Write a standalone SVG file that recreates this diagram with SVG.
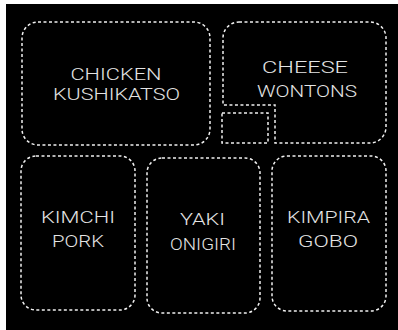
<svg xmlns="http://www.w3.org/2000/svg" width="398" height="330" viewBox="0 0 398 330">
<style>
.box{fill:none;stroke:#f0f0f0;stroke-width:1.5;stroke-dasharray:3 2.5}
.t{font-family:"Roboto","Liberation Sans",Arial,sans-serif;font-weight:300;font-size:17px;fill:#e4e4e4;text-anchor:middle}
</style>
<rect x="0" y="0" width="398" height="330" fill="#ffffff"/>
<rect x="6" y="4" width="392" height="326" fill="#000000"/>
<g id="chicken-kushikatso">
<rect class="box" x="22" y="22" width="188" height="123" rx="16"/>
<text class="t" x="116" y="80" textLength="91" lengthAdjust="spacingAndGlyphs">CHICKEN</text>
<text class="t" x="116.5" y="100" textLength="127" lengthAdjust="spacingAndGlyphs">KUSHIKATSO</text>
</g>
<g id="cheese-wontons">
<path class="box" d="M239,22 H370 A16,16 0 0 1 386,38 V127 A16,16 0 0 1 370,143 H275 V105 H223 V38 A16,16 0 0 1 239,22 Z"/>
<text class="t" x="305" y="73" textLength="86" lengthAdjust="spacingAndGlyphs">CHEESE</text>
<text class="t" x="307" y="97" textLength="100" lengthAdjust="spacingAndGlyphs">WONTONS</text>
</g>
<g id="small-compartment">
<rect class="box" x="222" y="113" width="46" height="30"/>
</g>
<g id="kimchi-pork">
<rect class="box" x="21" y="156" width="114" height="154" rx="15"/>
<text class="t" x="78" y="223" textLength="74" lengthAdjust="spacingAndGlyphs">KIMCHI</text>
<text class="t" x="78" y="247" textLength="52" lengthAdjust="spacingAndGlyphs">PORK</text>
</g>
<g id="yaki-onigiri">
<rect class="box" x="147" y="158" width="113" height="155" rx="15"/>
<text class="t" x="202.5" y="225" textLength="45" lengthAdjust="spacingAndGlyphs">YAKI</text>
<text class="t" x="203" y="250" textLength="66" lengthAdjust="spacingAndGlyphs">ONIGIRI</text>
</g>
<g id="kimpira-gobo">
<rect class="box" x="272" y="156" width="114" height="155" rx="15"/>
<text class="t" x="328.5" y="223" textLength="83" lengthAdjust="spacingAndGlyphs">KIMPIRA</text>
<text class="t" x="328" y="247" textLength="60" lengthAdjust="spacingAndGlyphs">GOBO</text>
</g>
</svg>
